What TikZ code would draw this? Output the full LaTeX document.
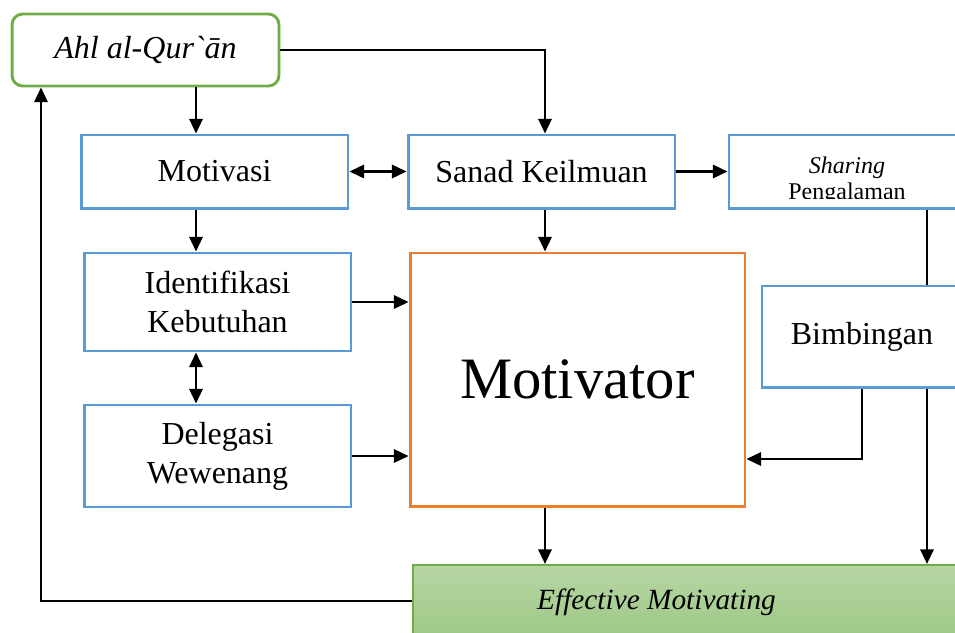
\documentclass[tikz,border=0pt]{standalone}
\usepackage{fontspec}
\setmainfont{Liberation Serif}
\usetikzlibrary{arrows.meta}
\definecolor{boxblue}{RGB}{91,155,213}
\definecolor{boxorange}{RGB}{237,125,49}
\definecolor{boxgreen}{RGB}{112,173,71}
\definecolor{efftop}{RGB}{182,214,163}
\definecolor{effbot}{RGB}{158,200,135}
\begin{document}
\begin{tikzpicture}[x=0.375pt, y=-0.375pt,
  box/.style={draw=boxblue, line width=1.1pt, align=center, inner sep=0pt,
    font=\fontsize{12}{14.6}\selectfont},
  link/.style={line width=0.85pt},
  arr/.style={link, -{Triangle[length=5.5pt,width=5pt]}},
  dbl/.style={link, {Triangle[length=5.5pt,width=5pt]}-{Triangle[length=5.5pt,width=5pt]}}]
\useasboundingbox (0,0) rectangle (955,633);
\clip (0,0) rectangle (955,633);

\node [box, draw=boxgreen, rounded corners=4pt, minimum width=100.1pt, minimum height=27pt,
  font=\fontsize{12}{14}\selectfont\itshape] (ahl) at (145.5,50) {Ahl al-Qur\textasciigrave ān};
\node [box, minimum width=100.1pt, minimum height=27.4pt] (motivasi) at (214.5,171.5) {Motivasi};
\node [box, minimum width=100.1pt, minimum height=27.4pt] (sanad) at (541.5,171.5) {Sanad Keilmuan};
\node [box, minimum width=88.5pt, minimum height=27.4pt] (sharing) at (847,171.5) {};
% text of the sharing box sits low and is cut off at the bottom
\begin{scope}
  \clip (729,135) rectangle (965,198);
  \node [align=center, inner sep=0pt, font=\fontsize{9}{9.75}\selectfont] (sharinglabel)
    at (847,181) {\textit{Sharing}\\Pengalaman};
\end{scope}
\node [box, minimum width=100.1pt, minimum height=36.75pt] (identifikasi) at (217.5,302) {Identifikasi\\Kebutuhan};
\node [box, minimum width=100.1pt, minimum height=38.25pt] (delegasi) at (217.5,456) {Delegasi\\Wewenang};
\node [box, draw=boxorange, minimum width=125.6pt, minimum height=94.9pt,
  font=\fontsize{22}{26}\selectfont] (motivator) at (577.5,379.5) {Motivator};
\node [box, minimum width=75pt, minimum height=37.9pt] (bimbingan) at (862,336.5) {Bimbingan};
\node [draw=boxgreen, line width=0.8pt, top color=efftop, bottom color=effbot, inner sep=0pt,
  minimum width=225pt, minimum height=27pt] (effective) at (713,601) {};
\node [font=\fontsize{11}{13}\selectfont\itshape] (efflabel) at (656.5,602) {Effective Motivating};

\coordinate (colD) at (41,0);
\coordinate (colA) at (196,0);
\coordinate (colC) at (545,0);
\coordinate (colB) at (927,0);
\coordinate (rowB) at (0,459);

\draw[arr] (ahl.south -| colA) -- (motivasi.north -| colA);
\draw[arr] (ahl.east) -| (sanad.north -| colC);
\draw[dbl] (motivasi.east) -- (sanad.west);
\draw[arr] (sanad.east) -- (sharing.west);
\draw[arr] (motivasi.south -| colA) -- (identifikasi.north -| colA);
\draw[arr] (sanad.south -| colC) -- (motivator.north -| colC);
\draw[arr] (identifikasi.east) -- (identifikasi.east -| motivator.west);
\draw[dbl] (identifikasi.south -| colA) -- (delegasi.north -| colA);
\draw[arr] (delegasi.east) -- (delegasi.east -| motivator.west);
\draw[link] (sharing.south -| colB) -- (bimbingan.north -| colB);
\draw[arr] (bimbingan.south -| colB) -- (effective.north -| colB);
\draw[arr] (bimbingan.south) |- (motivator.east |- rowB);
\draw[arr] (motivator.south -| colC) -- (effective.north -| colC);
\draw[arr] (effective.west) -| (ahl.south -| colD);
\end{tikzpicture}
\end{document}
